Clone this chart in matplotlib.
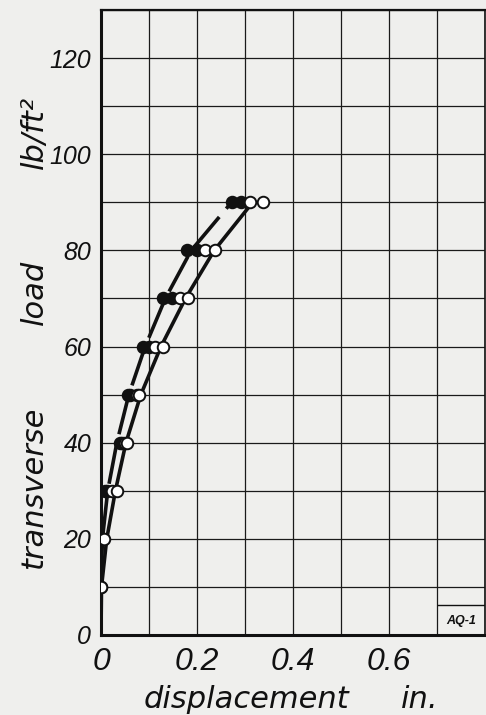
import matplotlib
matplotlib.use("Agg")
import matplotlib.pyplot as plt

# Transverse load levels (lb/ft^2)
loads = [20, 30, 40, 50, 60, 70, 80, 90]

# Displacement readings (in.) — filled symbols
disp_filled_a = [0.003, 0.008, 0.040, 0.057, 0.088, 0.130, 0.179, 0.272]
disp_filled_b = [0.004, 0.012, 0.043, 0.060, 0.099, 0.147, 0.199, 0.291]

# Displacement readings (in.) — open symbols
loads_open = [10, 20, 30, 40, 50, 60, 70, 80, 90]
disp_open_a = [0.000, 0.005, 0.022, 0.050, 0.075, 0.112, 0.165, 0.217, 0.310]
disp_open_b = [0.000, 0.007, 0.033, 0.055, 0.079, 0.130, 0.182, 0.238, 0.338]

# Faired curves through each set of readings
curve_loads = [0, 10, 20, 30, 40, 50, 60, 70, 80, 90]
curve_filled = [0.000, 0.000, 0.003, 0.014, 0.033, 0.058, 0.092, 0.134, 0.188, 0.272]
curve_open = [0.000, 0.001, 0.012, 0.030, 0.052, 0.083, 0.125, 0.176, 0.236, 0.316]

x_ticks = [0.0, 0.1, 0.2, 0.3, 0.4, 0.5, 0.6, 0.7, 0.8]
x_labels = ["0", "", "0.2", "", "0.4", "", "0.6", "", ""]
y_ticks = [0, 10, 20, 30, 40, 50, 60, 70, 80, 90, 100, 110, 120, 130]
y_labels = ["0", "", "20", "", "40", "", "60", "", "80", "", "100", "", "120", ""]

BG = "#efefed"
INK = "#111111"
LABEL_FONT = ["DejaVu Sans"]
TICK_FONT = ["Liberation Sans Narrow", "Liberation Sans", "DejaVu Sans"]

fig = plt.figure(figsize=(4.86, 7.15), dpi=100, facecolor=BG)
ax = fig.add_axes([101 / 486, 80 / 715, 384 / 486, 625 / 715], facecolor=BG)

ax.set_xlim(0, 0.8)
ax.set_ylim(0, 130)
ax.set_xticks(x_ticks)
ax.set_xticklabels(x_labels)
ax.set_yticks(y_ticks)
ax.set_yticklabels(y_labels)
ax.tick_params(axis="x", length=0, pad=9, colors=INK)
ax.tick_params(axis="y", length=0, pad=7, colors=INK)
for lab in ax.get_xticklabels():
    lab.set_fontfamily(["Liberation Sans", "DejaVu Sans"])
    lab.set_fontstyle("italic")
    lab.set_fontsize(23)
for lab in ax.get_yticklabels():
    lab.set_fontfamily(TICK_FONT)
    lab.set_fontstyle("italic")
    lab.set_fontsize(18)
ax.grid(True, color="#1a1a1a", linewidth=0.9)
ax.set_axisbelow(True)

for side, lw in (("left", 2.2), ("bottom", 2.2), ("top", 1.6), ("right", 1.2)):
    ax.spines[side].set_linewidth(lw)
    ax.spines[side].set_color(INK)

# Curves
ax.plot(curve_filled, curve_loads, color=INK, lw=2.6, ls=(0, (11, 3)),
        solid_capstyle="butt", dash_capstyle="butt", zorder=3)
ax.plot(curve_open, curve_loads, color=INK, lw=2.6, zorder=3)

# Readings
mk = dict(ls="none", marker="o", markersize=8.3, markeredgewidth=1.4,
          markeredgecolor=INK, zorder=4)
ax.plot(disp_filled_a, loads, markerfacecolor=INK, **mk)
ax.plot(disp_filled_b, loads, markerfacecolor=INK, **mk)
ax.plot(disp_open_a, loads_open, markerfacecolor="white", **mk)
ax.plot(disp_open_b, loads_open, markerfacecolor="white", **mk)

# Identification box in the lower-right cell
ax.hlines(6.2, 0.7, 0.8, color=INK, lw=1.0, zorder=2)
ax.text(0.75, 3.0, "AQ-1", ha="center", va="center", fontsize=9,
        fontfamily=TICK_FONT, fontstyle="italic", fontweight="bold", color=INK)

# Axis titles
fig.text(246 / 486, 1 - 700 / 715, "displacement", ha="center", va="center",
         fontsize=22, fontfamily=LABEL_FONT, fontstyle="oblique", color=INK)
fig.text(420 / 486, 1 - 700 / 715, "in.", ha="center", va="center",
         fontsize=22, fontfamily=LABEL_FONT, fontstyle="oblique", color=INK)
for txt, yc in (("transverse", 488), ("load", 292), ("lb/ft²", 132)):
    fig.text(34 / 486, 1 - yc / 715, txt, ha="center", va="center", rotation=90,
             fontsize=22, fontfamily=LABEL_FONT, fontstyle="oblique", color=INK)

fig.savefig("out.png", dpi=100, facecolor=BG)
